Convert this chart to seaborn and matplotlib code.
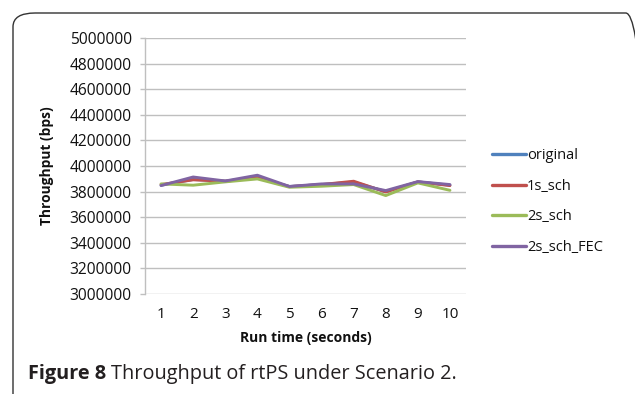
import matplotlib
matplotlib.use("Agg")
import matplotlib.pyplot as plt
import seaborn as sns
import pandas as pd
from matplotlib.patches import FancyBboxPatch

run_time = [1, 2, 3, 4, 5, 6, 7, 8, 9, 10]
series_names = ["original", "1s_sch", "2s_sch", "2s_sch_FEC"]
original = [3850000, 3895000, 3882000, 3910000, 3840000, 3855000, 3875000, 3800000, 3876000, 3850000]
s1_sch = [3855000, 3892000, 3881000, 3907000, 3839000, 3855000, 3881000, 3797000, 3876000, 3847000]
s2_sch = [3860000, 3850000, 3876000, 3899000, 3834000, 3842000, 3855000, 3769000, 3868000, 3810000]
s2_sch_fec = [3847000, 3914000, 3883000, 3928000, 3840000, 3860000, 3860000, 3808000, 3878000, 3855000]
y_ticks = [3000000, 3200000, 3400000, 3600000, 3800000, 4000000, 4200000, 4400000, 4600000, 4800000, 5000000]
colors = ["#4F81BD", "#C0504D", "#9BBB59", "#8064A2"]

rows = []
for name, vals in zip(series_names, [original, s1_sch, s2_sch, s2_sch_fec]):
    for t, v in zip(run_time, vals):
        rows.append({"Run time": t, "Throughput": v, "series": name})
df = pd.DataFrame(rows)

sns.set_theme(style="white")
plt.rcParams["font.family"] = ["Open Sans", "DejaVu Sans"]

W, H = 635, 394
fig = plt.figure(figsize=(W / 100, H / 100), dpi=100)
fig.patch.set_facecolor("white")

# rounded frame
frame = FancyBboxPatch((13 / W, -0.06), 1.0, 1.0 - 13 / H + 0.06,
                       boxstyle="round,pad=0,rounding_size=0.035",
                       transform=fig.transFigure, fill=False,
                       edgecolor="#333333", linewidth=1.0, clip_on=False)
fig.patches.append(frame)

ax = fig.add_axes([145 / W, 1 - 294 / H, (466 - 145) / W, (294 - 38) / H])

sns.lineplot(data=df, x="Run time", y="Throughput", hue="series",
             hue_order=series_names, palette=colors, linewidth=2.1,
             ax=ax, legend=True)

ax.set_xlim(0.5, 10.5)
ax.set_ylim(3000000, 5000000)
ax.set_yticks(y_ticks)
ax.set_yticklabels([str(v) for v in y_ticks])
ax.set_xticks(run_time)
ax.set_xticklabels([str(v) for v in run_time])
ax.grid(axis="y", color="#BFBFBF", linewidth=1.0)
ax.set_axisbelow(True)
for side in ["top", "right", "bottom"]:
    ax.spines[side].set_visible(False)
ax.spines["left"].set_color("#BFBFBF")
ax.spines["left"].set_linewidth(1.0)
ax.tick_params(axis="y", length=3.5, width=1.0, color="#BFBFBF", labelsize=11.2,
               labelcolor="#111111", pad=6, left=True)
ax.tick_params(axis="x", length=0, labelsize=11, labelcolor="#111111", pad=9)

ax.set_xlabel("Run time (seconds)", fontsize=10, fontweight="bold", color="#111111", labelpad=7)
ax.set_ylabel("")
fig.text(47 / W, 1 - 166 / H, "Throughput (bps)", rotation=90, fontsize=9.9,
         fontweight="bold", color="#111111", ha="center", va="center")

leg = ax.legend(loc="center left", bbox_to_anchor=(1.063, 0.361), frameon=False,
                fontsize=10.5, handlelength=2.3, handletextpad=0.1,
                labelspacing=1.07, borderaxespad=0)
for line in leg.get_lines():
    line.set_linewidth(2.4)
for t in leg.get_texts():
    t.set_color("#111111")

cap_y = 1 - 374 / H
t1 = fig.text(28 / W, cap_y, "Figure 8", fontsize=14.3, fontweight="bold",
              color="#231F20", va="center", ha="left")
fig.canvas.draw()
bb = t1.get_window_extent(renderer=fig.canvas.get_renderer())
fig.text((bb.x1 + 5) / W, cap_y, "Throughput of rtPS under Scenario 2.", fontsize=14.3,
         color="#231F20", va="center", ha="left")

fig.savefig("out.png", dpi=100, facecolor="white")
